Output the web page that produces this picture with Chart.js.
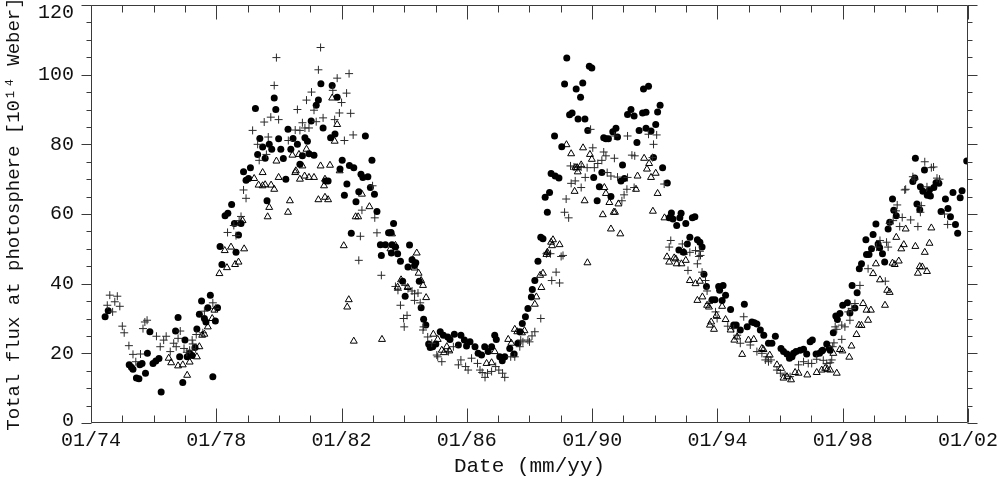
<!DOCTYPE html>
<html>
<head>
<meta charset="utf-8">
<script src="https://cdn.jsdelivr.net/npm/chart.js@4.4.1/dist/chart.umd.min.js"></script>
<style>
  html, body { margin: 0; padding: 0; background: #ffffff; }
  #wrap { width: 1004px; height: 484px; }
</style>
</head>
<body>
<div id="wrap"><canvas id="c" width="1004" height="484"></canvas></div>
<script>
// ---- tick labels ----
const xTickYears = [1974, 1978, 1982, 1986, 1990, 1994, 1998, 2002];
const xTickLabels = ['01/74', '01/78', '01/82', '01/86', '01/90', '01/94', '01/98', '01/02'];
const yTickValues = [0, 20, 40, 60, 80, 100, 120];
const yTickLabels = ['0', '20', '40', '60', '80', '100', '120'];

// ---- series: [decimal year, flux (10^14 Wb)] ----
const circleSeries = [
[1974.45,30.5],[1974.55,32.2],[1975.22,16.7],[1975.29,16.0],[1975.34,15.4],[1975.45,12.9],[1975.53,12.7],[1975.56,16.7],[1975.63,17.1],[1975.74,14.3],[1975.80,20.0],[1975.88,26.2],[1975.98,17.1],[1976.07,17.8],[1976.17,18.5],[1976.24,8.9],[1976.70,26.4],[1976.78,30.3],[1976.83,19.0],[1976.93,11.6],[1977.00,23.8],[1977.07,19.0],[1977.15,20.0],[1977.23,19.4],[1977.32,21.7],[1977.38,27.0],[1977.46,31.2],[1977.53,35.0],[1977.62,30.0],[1977.67,29.0],[1977.73,33.1],[1977.81,36.7],[1977.89,13.3],[1977.97,29.3],[1978.04,33.1],[1978.12,50.7],[1978.18,45.5],[1978.28,59.5],[1978.37,60.2],[1978.49,62.7],[1978.58,57.3],[1978.63,49.0],[1978.71,54.0],[1978.79,57.3],[1978.87,72.1],[1978.95,69.7],[1979.03,70.2],[1979.09,73.3],[1979.25,90.3],[1979.32,77.1],[1979.39,81.7],[1979.48,79.2],[1979.56,76.0],[1979.62,63.8],[1979.69,80.0],[1979.77,78.6],[1979.85,93.3],[1979.90,90.0],[1979.99,81.6],[1980.06,78.6],[1980.14,75.9],[1980.22,70.0],[1980.29,84.3],[1980.38,78.6],[1980.45,81.7],[1980.59,80.0],[1980.67,74.3],[1980.75,76.7],[1980.83,81.9],[1980.91,80.9],[1980.96,77.3],[1981.03,86.7],[1981.12,76.9],[1981.19,91.2],[1981.26,92.7],[1981.34,97.4],[1981.41,84.7],[1981.49,69.5],[1981.57,69.5],[1981.65,81.9],[1981.70,96.9],[1981.79,83.0],[1981.86,93.5],[1981.95,72.9],[1982.02,75.4],[1982.09,65.4],[1982.17,68.6],[1982.25,73.9],[1982.31,54.5],[1982.39,73.3],[1982.46,63.5],[1982.55,66.4],[1982.62,71.4],[1982.68,70.5],[1982.76,82.4],[1982.84,70.7],[1982.92,67.6],[1982.97,75.4],[1983.05,65.7],[1983.13,60.7],[1983.24,51.2],[1983.27,48.1],[1983.40,51.2],[1983.50,54.6],[1983.58,54.7],[1983.59,48.8],[1983.61,51.2],[1983.66,57.3],[1983.72,50.5],[1983.79,48.6],[1983.88,46.4],[1983.95,40.7],[1984.03,36.4],[1984.12,44.8],[1984.17,51.1],[1984.25,46.9],[1984.33,45.2],[1984.37,46.0],[1984.48,40.7],[1984.54,33.1],[1984.62,29.8],[1984.69,28.1],[1984.78,22.7],[1984.83,21.7],[1984.91,21.9],[1985.01,22.7],[1985.15,26.2],[1985.25,25.2],[1985.39,24.7],[1985.46,24.0],[1985.60,25.5],[1985.73,22.4],[1985.81,25.2],[1985.92,23.8],[1985.99,22.1],[1986.10,23.3],[1986.26,21.9],[1986.36,20.0],[1986.47,19.5],[1986.57,21.9],[1986.68,20.5],[1986.79,21.9],[1986.89,25.2],[1986.94,24.0],[1987.05,19.0],[1987.13,17.9],[1987.21,19.0],[1987.37,21.4],[1987.51,19.8],[1987.63,22.9],[1987.69,26.2],[1987.77,28.6],[1987.87,30.5],[1987.95,32.9],[1988.06,36.2],[1988.09,38.3],[1988.17,40.9],[1988.27,46.4],[1988.36,53.3],[1988.43,52.9],[1988.50,64.8],[1988.57,60.5],[1988.64,66.2],[1988.69,71.6],[1988.80,82.4],[1988.82,70.9],[1988.94,70.3],[1989.03,79.3],[1989.12,97.3],[1989.19,104.8],[1989.28,88.5],[1989.36,89.0],[1989.49,95.9],[1989.55,87.3],[1989.63,93.5],[1989.70,97.6],[1989.77,87.3],[1989.86,84.0],[1989.91,102.4],[1989.99,101.9],[1990.05,70.5],[1990.16,63.8],[1990.23,67.8],[1990.31,71.9],[1990.37,81.9],[1990.44,81.6],[1990.52,81.6],[1990.60,65.0],[1990.66,83.6],[1990.76,84.6],[1990.81,82.1],[1990.92,69.5],[1990.97,74.1],[1991.03,70.2],[1991.13,88.6],[1991.24,90.0],[1991.34,88.1],[1991.43,80.5],[1991.50,84.0],[1991.61,89.0],[1991.64,95.9],[1991.72,84.6],[1991.72,89.2],[1991.80,96.7],[1991.88,83.8],[1991.96,76.2],[1992.03,85.7],[1992.09,89.3],[1992.17,91.2],[1992.25,73.3],[1992.40,68.9],[1992.46,58.9],[1992.53,60.3],[1992.58,58.6],[1992.70,56.7],[1992.77,49.7],[1992.80,58.9],[1992.84,60.2],[1992.92,49.0],[1992.99,57.3],[1993.04,51.4],[1993.12,53.3],[1993.20,58.9],[1993.28,59.2],[1993.36,52.6],[1993.44,51.9],[1993.51,50.5],[1993.57,42.7],[1993.65,39.2],[1993.83,35.4],[1993.92,35.4],[1994.04,39.2],[1994.07,38.1],[1994.15,35.2],[1994.18,39.5],[1994.26,36.7],[1994.42,32.6],[1994.52,28.1],[1994.60,28.1],[1994.73,26.7],[1994.86,34.1],[1994.95,27.6],[1995.10,29.0],[1995.18,28.8],[1995.26,28.4],[1995.37,26.7],[1995.48,25.2],[1995.63,22.9],[1995.74,22.9],[1995.85,24.9],[1996.03,21.4],[1996.11,20.5],[1996.22,19.8],[1996.30,18.6],[1996.38,19.0],[1996.43,20.0],[1996.51,20.5],[1996.64,20.9],[1996.75,21.2],[1996.85,19.8],[1996.96,23.3],[1997.03,23.8],[1997.15,19.8],[1997.26,20.0],[1997.33,20.7],[1997.36,20.9],[1997.49,22.7],[1997.57,21.4],[1997.60,20.9],[1997.70,25.9],[1997.78,30.7],[1997.83,29.7],[1997.91,31.4],[1998.00,33.8],[1998.15,34.5],[1998.23,31.6],[1998.30,39.5],[1998.39,33.0],[1998.46,37.4],[1998.53,44.3],[1998.60,45.7],[1998.74,52.6],[1998.76,48.4],[1998.84,48.4],[1998.92,50.0],[1998.97,54.1],[1999.06,57.1],[1999.13,51.4],[1999.18,50.3],[1999.27,48.6],[1999.34,46.2],[1999.45,55.7],[1999.50,57.6],[1999.59,64.3],[1999.63,61.1],[1999.71,59.5],[2000.24,69.3],[2000.30,70.3],[2000.32,76.0],[2000.37,62.9],[2000.46,61.2],[2000.48,67.8],[2000.56,66.5],[2000.61,72.6],[2000.70,65.4],[2000.77,66.9],[2000.80,65.2],[2000.91,67.6],[2000.98,69.0],[2001.07,68.8],[2001.14,60.7],[2001.28,64.3],[2001.36,61.6],[2001.44,59.2],[2001.52,66.2],[2001.60,57.0],[2001.67,54.5],[2001.75,64.7],[2001.81,66.7],[2001.96,75.2]
];

const plusSeries = [
[1974.52,33.8],[1974.60,36.7],[1974.69,31.9],[1974.76,34.8],[1974.84,36.4],[1974.92,33.5],[1975.00,27.8],[1975.06,25.9],[1975.21,22.2],[1975.34,19.7],[1975.43,17.6],[1975.58,19.8],[1975.66,27.1],[1975.72,29.0],[1975.79,29.5],[1976.09,24.9],[1976.21,21.9],[1976.32,23.8],[1976.40,24.9],[1976.53,20.5],[1976.64,22.9],[1976.72,21.9],[1976.78,24.3],[1976.85,26.4],[1976.97,21.4],[1977.06,20.3],[1977.15,20.9],[1977.23,23.8],[1977.25,22.7],[1977.34,21.3],[1977.36,25.4],[1977.57,25.9],[1977.62,32.1],[1977.89,34.5],[1977.97,32.9],[1978.36,54.7],[1978.56,56.7],[1978.63,53.8],[1978.73,58.1],[1978.79,59.3],[1978.87,66.9],[1978.95,64.5],[1979.16,84.0],[1979.32,80.0],[1979.37,75.4],[1979.53,86.4],[1979.60,77.1],[1979.66,82.1],[1979.74,87.8],[1979.85,96.9],[1979.92,104.9],[1979.99,87.1],[1980.30,81.1],[1980.52,84.1],[1980.59,90.0],[1980.67,84.0],[1980.75,86.2],[1980.83,84.7],[1980.88,92.7],[1980.96,84.7],[1981.04,95.0],[1981.12,89.8],[1981.19,86.5],[1981.26,101.4],[1981.33,107.8],[1981.41,87.6],[1981.72,95.5],[1981.78,87.1],[1981.86,99.0],[1981.93,89.0],[1982.00,92.0],[1982.09,81.1],[1982.16,94.7],[1982.24,100.3],[1982.29,88.9],[1982.37,82.7],[1982.55,46.7],[1982.60,53.6],[1982.65,61.1],[1982.99,68.1],[1983.06,58.9],[1983.13,54.6],[1983.27,42.4],[1983.72,39.2],[1983.80,38.1],[1983.88,33.8],[1983.98,30.0],[1984.00,27.6],[1984.03,39.5],[1984.09,30.9],[1984.12,38.6],[1984.25,37.9],[1984.33,37.1],[1984.33,35.2],[1984.44,37.3],[1984.51,34.5],[1984.60,26.7],[1984.62,27.6],[1984.75,24.7],[1984.88,22.9],[1985.04,19.5],[1985.07,19.0],[1985.20,17.6],[1985.41,20.5],[1985.57,21.9],[1985.73,16.7],[1985.81,18.1],[1985.96,16.2],[1986.04,15.2],[1986.15,18.6],[1986.34,17.1],[1986.42,15.2],[1986.49,14.5],[1986.58,13.1],[1986.66,14.3],[1986.79,14.8],[1986.92,16.2],[1987.02,15.2],[1987.14,14.3],[1987.21,13.1],[1987.40,19.0],[1987.53,19.0],[1987.69,21.9],[1987.72,23.8],[1987.79,23.3],[1987.95,23.8],[1988.00,23.3],[1988.08,25.0],[1988.17,26.2],[1988.36,30.0],[1988.54,48.6],[1988.57,49.0],[1988.67,48.6],[1988.71,40.9],[1988.85,43.3],[1988.96,40.2],[1989.01,47.8],[1989.07,48.1],[1989.12,60.5],[1989.17,64.3],[1989.25,58.9],[1989.31,73.8],[1989.33,68.8],[1989.42,73.5],[1989.46,69.5],[1989.52,73.3],[1989.65,67.6],[1989.65,73.5],[1989.78,70.5],[1989.84,73.3],[1989.95,84.3],[1990.02,79.0],[1990.07,73.3],[1990.18,74.5],[1990.31,75.4],[1990.37,77.8],[1990.44,76.7],[1990.48,71.9],[1990.60,70.9],[1990.71,82.4],[1990.71,76.0],[1990.81,70.6],[1990.95,63.8],[1991.02,65.5],[1991.11,67.1],[1991.13,82.4],[1991.13,70.5],[1991.27,76.9],[1991.34,67.6],[1991.36,76.7],[1991.80,82.9],[1991.93,76.2],[1991.96,80.0],[1992.06,82.7],[1992.30,68.6],[1992.46,50.5],[1992.51,52.4],[1992.88,51.4],[1993.06,43.8],[1993.12,49.0],[1993.30,49.5],[1993.36,45.7],[1993.41,47.8],[1993.44,49.3],[1993.46,48.1],[1993.51,43.3],[1993.62,40.9],[1993.67,37.9],[1993.73,34.3],[1993.94,31.9],[1993.99,30.0],[1994.33,27.8],[1994.52,27.1],[1994.63,25.2],[1994.73,22.9],[1994.84,30.5],[1995.05,22.4],[1995.26,20.5],[1995.42,20.0],[1995.53,18.1],[1995.58,19.0],[1995.63,17.6],[1995.71,18.1],[1995.90,15.2],[1996.01,14.3],[1996.16,13.8],[1996.32,13.3],[1996.59,16.7],[1996.75,17.6],[1996.90,17.1],[1997.01,17.1],[1997.17,18.3],[1997.38,18.0],[1997.49,17.1],[1997.60,17.3],[1997.65,18.1],[1997.68,21.9],[1997.72,23.0],[1997.76,27.6],[1997.81,26.9],[1997.97,28.1],[1997.97,24.0],[1998.07,27.6],[1998.18,31.9],[1998.23,29.5],[1998.29,32.9],[1998.39,34.3],[1998.55,39.5],[1998.81,44.3],[1999.08,50.5],[1999.19,52.4],[1999.36,40.7],[1999.40,51.9],[1999.45,50.5],[1999.50,57.3],[1999.61,58.1],[1999.70,60.9],[1999.74,62.6],[1999.82,56.4],[1999.90,59.0],[1999.98,66.9],[2000.01,67.1],[2000.17,58.3],[2000.24,70.7],[2000.30,70.0],[2000.40,56.4],[2000.48,60.5],[2000.51,62.4],[2000.62,75.0],[2000.69,67.8],[2000.83,73.3],[2000.90,73.5],[2001.01,70.3],[2001.09,70.0],[2001.25,60.0],[2001.35,57.0]
];

const triangleSeries = [
[1976.48,18.6],[1976.56,17.3],[1976.78,16.4],[1976.93,16.7],[1977.07,13.7],[1977.15,17.5],[1977.38,19.0],[1977.46,21.9],[1977.55,25.2],[1977.62,25.5],[1977.73,27.6],[1977.87,30.0],[1977.94,32.4],[1978.10,42.9],[1978.27,49.5],[1978.34,44.6],[1978.47,50.5],[1978.60,45.5],[1978.71,46.2],[1978.84,58.1],[1978.89,50.0],[1979.21,70.2],[1979.35,68.3],[1979.48,68.1],[1979.48,71.9],[1979.56,68.4],[1979.64,59.2],[1979.69,61.9],[1979.75,68.3],[1979.85,67.1],[1979.92,75.2],[1979.99,70.5],[1980.29,60.5],[1980.35,63.8],[1980.43,76.9],[1980.52,71.9],[1980.54,72.4],[1980.64,77.1],[1980.67,70.0],[1980.75,73.8],[1980.82,70.9],[1980.88,78.6],[1980.96,70.5],[1981.12,70.5],[1981.26,64.1],[1981.33,73.8],[1981.44,68.1],[1981.47,70.0],[1981.47,64.8],[1981.57,64.1],[1981.63,74.0],[1981.70,93.3],[1981.78,80.9],[1981.86,85.7],[1981.94,72.4],[1982.07,50.9],[1982.18,33.3],[1982.23,35.4],[1982.39,23.5],[1982.45,59.2],[1982.53,59.2],[1982.65,65.7],[1982.89,62.1],[1983.29,24.0],[1983.56,50.0],[1983.61,54.3],[1983.72,51.0],[1983.79,39.0],[1983.90,41.1],[1984.11,38.9],[1984.27,46.9],[1984.33,44.5],[1984.40,48.8],[1984.46,43.0],[1984.54,40.9],[1984.60,39.5],[1984.70,36.0],[1984.93,25.5],[1985.07,24.0],[1985.20,20.9],[1985.27,20.2],[1985.36,21.9],[1985.44,20.7],[1986.63,17.1],[1986.79,17.3],[1986.89,20.5],[1987.32,24.0],[1987.42,22.9],[1987.53,26.9],[1987.61,26.2],[1987.76,25.9],[1987.84,26.5],[1988.17,34.1],[1988.22,36.2],[1988.34,42.4],[1988.38,38.9],[1988.43,43.0],[1988.54,48.4],[1988.57,49.0],[1988.69,51.9],[1988.72,50.9],[1988.75,52.6],[1988.96,51.2],[1989.18,79.9],[1989.33,77.3],[1989.44,66.5],[1989.46,73.3],[1989.52,73.3],[1989.54,72.1],[1989.65,74.1],[1989.71,79.0],[1989.76,63.8],[1989.85,46.0],[1989.93,77.1],[1989.99,75.7],[1990.34,59.8],[1990.39,67.6],[1990.44,65.9],[1990.55,63.3],[1990.60,55.7],[1990.69,60.5],[1990.73,60.5],[1990.84,62.9],[1990.90,54.3],[1991.40,67.1],[1991.45,70.9],[1991.66,76.0],[1991.75,72.9],[1991.82,74.5],[1991.88,70.5],[1991.94,60.8],[1992.03,71.7],[1992.09,65.9],[1992.31,58.9],[1992.39,47.7],[1992.46,46.2],[1992.62,47.4],[1992.67,47.1],[1992.70,45.7],[1992.85,45.7],[1992.93,49.0],[1992.99,46.7],[1993.12,40.9],[1993.30,40.0],[1993.36,35.2],[1993.44,40.7],[1993.52,36.2],[1993.67,33.8],[1993.73,33.3],[1993.76,28.1],[1993.80,29.0],[1993.89,26.9],[1993.97,30.9],[1994.15,33.5],[1994.26,29.7],[1994.42,26.7],[1994.54,23.8],[1994.63,24.7],[1994.79,19.7],[1994.99,23.8],[1995.16,24.0],[1995.42,21.4],[1995.47,21.1],[1995.67,19.5],[1995.90,16.7],[1996.03,15.7],[1996.11,12.9],[1996.22,13.3],[1996.35,12.4],[1996.48,14.5],[1996.59,14.3],[1996.87,13.8],[1997.17,14.5],[1997.33,15.2],[1997.44,15.7],[1997.51,15.4],[1997.60,15.2],[1997.70,20.0],[1997.81,14.3],[1997.91,21.1],[1997.99,20.7],[1998.21,18.9],[1998.28,22.1],[1998.44,25.4],[1998.52,28.1],[1998.60,28.0],[1998.65,34.3],[1998.76,32.4],[1998.81,29.5],[1998.90,32.4],[1998.97,42.9],[1999.06,45.7],[1999.19,41.1],[1999.35,33.8],[1999.42,38.1],[1999.50,37.5],[1999.59,45.9],[1999.66,45.5],[1999.71,53.3],[1999.79,46.5],[1999.87,50.0],[1999.95,51.2],[2000.01,55.7],[2000.32,50.7],[2000.40,43.0],[2000.46,44.9],[2000.54,44.8],[2000.62,49.0],[2000.69,43.5],[2000.77,51.6],[2000.83,56.0]
];

const toPoints = s => s.map(p => ({ x: p[0], y: p[1] }));
const FONT = "'Liberation Mono', 'DejaVu Sans Mono', monospace";
const INK = '#111111';
const AXIS = '#3a3a3a';

const idlAxes = {
  id: 'idlAxes',
  afterDraw(chart) {
    const { ctx, chartArea: a, scales } = chart;
    const xs = scales.x, ys = scales.y;
    const L = Math.round(a.left) + 0.5, R = Math.round(a.right) - 0.5;
    const T = Math.round(a.top) + 0.5, B = Math.round(a.bottom) - 0.5;
    ctx.save();
    ctx.strokeStyle = AXIS;
    ctx.lineWidth = 1;
    ctx.beginPath();
    ctx.rect(L, T, R - L, B - T);
    // x ticks every year, pointing inward (bottom and top)
    for (let yr = xs.min; yr <= xs.max; yr++) {
      const px = Math.round(xs.getPixelForValue(yr)) + 0.5;
      const len = ((yr - xs.min) % 4 === 0) ? 14 : 7;
      ctx.moveTo(px, B); ctx.lineTo(px, B - len);
      ctx.moveTo(px, T); ctx.lineTo(px, T + len);
    }
    // y ticks every 5, pointing outward (left and right)
    for (let v = ys.min; v <= ys.max; v += 5) {
      const py = Math.round(ys.getPixelForValue(v)) + 0.5;
      const len = (v % 20 === 0) ? 10 : 5;
      ctx.moveTo(L, py); ctx.lineTo(L - len, py);
      ctx.moveTo(R, py); ctx.lineTo(R + len, py);
    }
    ctx.stroke();
    // y tick labels
    ctx.fillStyle = INK;
    ctx.font = "20px " + FONT;
    ctx.textAlign = 'right';
    ctx.textBaseline = 'middle';
    yTickValues.forEach((v, i) => {
      let py = ys.getPixelForValue(v);
      py = Math.min(Math.max(py, a.top + 8), a.bottom - 2);
      ctx.fillText(yTickLabels[i], a.left - 17, py);
    });
    ctx.restore();
  }
};

new Chart(document.getElementById('c'), {
  type: 'scatter',
  data: {
    datasets: [
      {
        label: 'triangles',
        data: toPoints(triangleSeries),
        pointStyle: 'triangle',
        pointRadius: 4,
        backgroundColor: 'rgba(255,255,255,0)',
        borderColor: '#000000',
        borderWidth: 1
      },
      {
        label: 'plus',
        data: toPoints(plusSeries),
        pointStyle: 'cross',
        pointRadius: 4,
        borderColor: '#2a2a2a',
        borderWidth: 1
      },
      {
        label: 'circles',
        data: toPoints(circleSeries),
        pointStyle: 'circle',
        pointRadius: 3.5,
        backgroundColor: '#000000',
        borderColor: '#000000',
        borderWidth: 0
      }
    ]
  },
  options: {
    responsive: false,
    devicePixelRatio: 1,
    animation: false,
    events: [],
    layout: { padding: { left: 0, right: 31, top: 4, bottom: 0 } },
    plugins: { legend: { display: false }, tooltip: { enabled: false } },
    scales: {
      x: {
        type: 'linear',
        position: 'bottom',
        min: 1974,
        max: 2002,
        grid: { display: false, drawTicks: false },
        border: { display: false },
        afterBuildTicks: s => { s.ticks = xTickYears.map(v => ({ value: v })); },
        ticks: {
          autoSkip: false,
          maxRotation: 0,
          padding: 6,
          color: INK,
          font: { family: FONT, size: 20 },
          callback: v => xTickLabels[xTickYears.indexOf(v)]
        },
        title: {
          display: true,
          text: 'Date (mm/yy)',
          color: INK,
          font: { family: FONT, size: 21 },
          padding: { top: 0, bottom: 5 }
        },
        afterFit: s => { s.height = 61; }
      },
      y: {
        type: 'linear',
        position: 'left',
        min: 0,
        max: 120,
        grid: { display: false, drawTicks: false },
        border: { display: false },
        ticks: { display: false },
        title: {
          display: true,
          text: 'Total flux at photosphere [10\u00B9\u2074 Weber]',
          color: INK,
          font: { family: FONT, size: 19 },
          padding: { top: 3, bottom: 0 }
        },
        afterFit: s => { s.width = 91; }
      }
    }
  },
  plugins: [idlAxes]
});
</script>
</body>
</html>
